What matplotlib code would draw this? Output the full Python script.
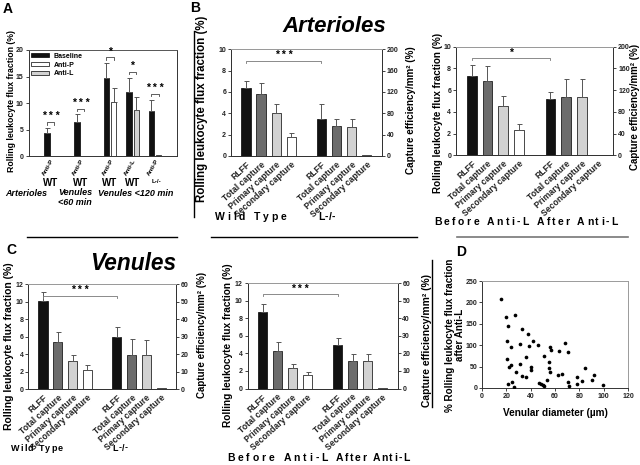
import matplotlib
matplotlib.use("Agg")
import matplotlib.pyplot as plt
from matplotlib.lines import Line2D
from matplotlib.patches import Patch
from matplotlib.transforms import ScaledTranslation

FONT = ['Liberation Sans', 'DejaVu Sans']
plt.rcParams['font.family'] = FONT
plt.rcParams['font.weight'] = 'bold'
plt.rcParams['axes.linewidth'] = 0.7

# ---------------- Data ----------------
# Panel A
a_treatment = ["Anti-P", "Anti-P", "Anti-P", "Anti-L", "Anti-P"]
a_strain = ["WT", "WT", "WT", "WT", "L-/-"]
a_baseline = [4.5, 6.5, 14.7, 12.1, 8.5]
a_baseline_err = [0.9, 1.4, 2.8, 2.7, 2.2]
a_treated = [0.15, 0.1, 10.2, 8.7, 0.2]
a_treated_err = [0.0, 0.0, 2.75, 2.5, 0.0]
a_sig = ["* * *", "* * *", "*", "*", "* * *"]
a_vessel = ["Arterioles", "Venules\n<60 min", "Venules <120 min"]
a_legend = ["Baseline", "Anti-P", "Anti-L"]
a_yticks = [0, 5, 10, 15, 20]

# Panels B and C
bar_labels = ["RLFF", "Total capture", "Primary capture", "Secondary capture"]

# B left: Arterioles, Wild Type vs L-/-
b1_groups = ["Wild Type", "L-/-"]
b1_rlff = [6.35, 3.5]
b1_rlff_err = [0.65, 1.4]
b1_total = [116, 56]
b1_total_err = [21.5, 14]
b1_primary = [81, 55]
b1_primary_err = [16, 14]
b1_secondary = [35.5, 1]
b1_secondary_err = [7, 0]
b1_sig = "* * *"

# B right: Arterioles, before vs after Anti-L
b2_groups = ["Before Anti-L", "After Anti-L"]
b2_rlff = [7.3, 5.15]
b2_rlff_err = [1.0, 0.7]
b2_total = [136, 107]
b2_total_err = [28, 33]
b2_primary = [90, 107]
b2_primary_err = [20, 33]
b2_secondary = [46.5, 1]
b2_secondary_err = [10.5, 0]
b2_sig = "*"

# C left: Venules, Wild Type vs L-/-
c1_groups = ["Wild Type", "L-/-"]
c1_rlff = [10.06, 5.92]
c1_rlff_err = [1.1, 1.2]
c1_total = [27.1, 19.5]
c1_total_err = [5.4, 9.0]
c1_primary = [16.0, 19.3]
c1_primary_err = [3.3, 8.6]
c1_secondary = [11.0, 0.3]
c1_secondary_err = [2.5, 0]
c1_sig = "* * *"

# C right: Venules, before vs after Anti-L
c2_groups = ["Before Anti-L", "After Anti-L"]
c2_rlff = [8.72, 4.98]
c2_rlff_err = [0.92, 0.77]
c2_total = [21.6, 15.7]
c2_total_err = [4.8, 4.0]
c2_primary = [11.5, 15.7]
c2_primary_err = [2.7, 4.0]
c2_secondary = [7.6, 0.2]
c2_secondary_err = [1.6, 0]
c2_sig = "* * *"

# Panel D scatter
d_diameter = [15.5, 19.6, 27.3, 21.5, 32.7, 20.5, 23.5, 31.4, 38.2, 42.0, 39.0, 45.8,
              20.7, 22.0, 23.5, 36.5, 31.6, 40.0, 40.0, 28.0, 33.0, 36.5, 21.5, 24.5,
              26.4, 47.0, 48.5, 50.0, 51.0, 51.2, 53.7, 54.8, 54.8, 56.0, 57.0, 56.0,
              63.0, 62.4, 65.7, 68.2, 70.4, 70.4, 71.2, 77.7, 77.7, 82.6, 84.8, 90.0,
              92.2, 99.3]
d_rlff = [208, 166, 171, 145, 139, 109, 96, 103, 127, 109, 97, 100,
          67, 50, 53, 72, 57, 49, 42, 37, 29, 26, 10, 14,
          2, 11, 9, 7, 5, 75, 18, 61, 47, 95, 89, 37,
          87, 30, 33, 106, 85, 14, 5, 25, 9, 16, 47, 19,
          30, 7]

# ---------------- Layout helpers ----------------
W, H = 640, 465
fig = plt.figure(figsize=(W / 100, H / 100), dpi=100)
renderer = fig.canvas.get_renderer()

BLACK = "#111111"
DARK = "#6c6c6c"
LIGHT = "#d2d2d2"
ERR = dict(ecolor="#555555", elinewidth=0.7, capsize=1.8, capthick=0.7)
TICKSIZE = 5.0


def add_ax(l, t, r, b):
    return fig.add_axes([l / W, 1 - b / H, (r - l) / W, (b - t) / H])


def ftext(x, y, s, **kw):
    return fig.text(x / W, 1 - y / H, s, **kw)


def tracked(x0, x1, y, s, size):
    """Letter-spaced text spanning x0..x1 pixels."""
    parts = [fig.text(0, 0, c, fontsize=size, va="center", ha="left") for c in s]
    widths = [p.get_window_extent(renderer).width for p in parts]
    for i, c in enumerate(s):
        if c == " ":
            widths[i] = size * 0.4
    gap = (x1 - x0 - sum(widths)) / max(len(s) - 1, 1)
    x = x0
    for p, w in zip(parts, widths):
        p.set_position((x / W, 1 - y / H))
        x += w + gap


def hline(x0, x1, y, color="k", lw=1.0):
    fig.add_artist(Line2D([x0 / W, x1 / W], [1 - y / H, 1 - y / H], color=color, lw=lw))


def vline(x, y0, y1, color="k", lw=1.0):
    fig.add_artist(Line2D([x / W, x / W], [1 - y0 / H, 1 - y1 / H], color=color, lw=lw))


def below(ax, x, dy, s, **kw):
    tr = ax.get_xaxis_transform() + ScaledTranslation(0, -dy / 100, fig.dpi_scale_trans)
    ax.text(x, 0, s, transform=tr, **kw)


def style_frame(ax):
    for side in ["left", "bottom", "right"]:
        ax.spines[side].set_color("#333333")
    ax.spines["top"].set_color("#9a9a9a")
    ax.tick_params(axis="both", length=2, width=0.6, labelsize=TICKSIZE, pad=1.5,
                   colors="#222222")


def bar(ax, x, h, e, color, w):
    kw = dict(color=color, edgecolor="k", linewidth=0.5, zorder=3)
    if e > 0:
        ax.bar(x, h, w, yerr=[[0], [e]], error_kw=ERR, **kw)
    else:
        ax.bar(x, h, w, **kw)


# ---------------- Panel A ----------------
axA = add_ax(28.5, 50, 176.5, 156.5)
a_x = [22, 52, 81.5, 104, 126.5]
bwA = 5.2
axA.set_xlim(0, 148)
axA.set_ylim(0, 20)
axA.set_yticks(a_yticks)
axA.set_xticks([])
style_frame(axA)
axA.spines["top"].set_color("#555555")
tcol = {"Anti-P": "white", "Anti-L": LIGHT}
for i, x in enumerate(a_x):
    bar(axA, x - 3.6, a_baseline[i], a_baseline_err[i], BLACK, bwA)
    bar(axA, x + 3.6, a_treated[i], a_treated_err[i], tcol[a_treatment[i]], bwA)
    top = max(a_baseline[i] + a_baseline_err[i], a_treated[i] + a_treated_err[i]) + 1.1
    axA.plot([x - 3.6, x - 3.6, x + 3.6, x + 3.6], [top - 0.5, top, top, top - 0.5],
             color="#444444", lw=0.6)
    axA.text(x, top + 0.15, a_sig[i], ha="center", va="bottom", fontsize=7.5)
    below(axA, x + 2.5, 3, a_treatment[i], rotation=60, rotation_mode="anchor",
          ha="right", va="center", fontsize=4.5)
    if a_strain[i] == "WT":
        below(axA, x, 26, a_strain[i], ha="center", va="center", fontsize=7)
    else:
        below(axA, x + 1, 25, a_strain[i], ha="center", va="center", fontsize=4.5)

axA.legend(handles=[Patch(facecolor=c, edgecolor="k", lw=0.5, label=l)
                    for c, l in zip([BLACK, "white", LIGHT], a_legend)],
           loc="upper left", frameon=False, fontsize=5, handlelength=2.6,
           handleheight=0.5, labelspacing=0.25, borderaxespad=0.3, handletextpad=0.6,
           borderpad=0.1)

ftext(26.5, 193, a_vessel[0], ha="center", va="center", fontsize=6.5, style="italic")
ftext(75, 197.5, a_vessel[1], ha="center", va="center", fontsize=6.5, style="italic",
      linespacing=1.05)
ftext(135.5, 193, a_vessel[2], ha="center", va="center", fontsize=6.5, style="italic")
ftext(12, 101, "Rolling leukocyte flux fraction (%)", rotation=90, ha="center",
      va="center", fontsize=6.3)
ftext(3, 9, "A", fontsize=10, ha="left", va="center")


# ---------------- Panels B and C ----------------
slots = [1, 2, 3, 4, 6, 7, 8, 9]


def bar_panel(box, rlff, rlff_e, tot, tot_e, prim, prim_e, sec, sec_e,
              lmax, lstep, rmax, rstep, sig, groups, gspans, gy, gsize,
              ylab_l, ylab_r, ylab_size):
    ax = add_ax(*box)
    ax2 = ax.twinx()
    ax.set_xlim(0, 10)
    ax.set_ylim(0, lmax)
    ax2.set_ylim(0, rmax)
    ax.set_yticks(range(0, lmax + 1, lstep))
    ax2.set_yticks(range(0, rmax + 1, rstep))
    style_frame(ax)
    style_frame(ax2)
    w = 0.62
    for g in range(2):
        o = 5 * g
        bar(ax, 1 + o, rlff[g], rlff_e[g], BLACK, w)
        bar(ax2, 2 + o, tot[g], tot_e[g], DARK, w)
        bar(ax2, 3 + o, prim[g], prim_e[g], LIGHT, w)
        bar(ax2, 4 + o, sec[g], sec_e[g], "white", w)
    ax.set_xticks(slots)
    ax.set_xticklabels(bar_labels * 2, rotation=42, ha="right",
                       rotation_mode="anchor", fontsize=6.2)
    ax.tick_params(axis="x", length=0, pad=3)
    yb = lmax * 0.893
    ax.plot([1, 1, 6, 6], [yb - lmax * 0.02, yb, yb, yb - lmax * 0.02],
            color="#777777", lw=0.6, zorder=4)
    ax.text(3.5, yb + lmax * 0.005, sig, ha="center", va="bottom", fontsize=7.5)
    for s, (x0, x1) in zip(groups, gspans):
        tracked(x0, x1, gy, s, gsize)
    ftext(ylab_l[0], ylab_l[1], "Rolling leukocyte flux fraction (%)", rotation=90,
          ha="center", va="center", fontsize=ylab_size[0])
    ftext(ylab_r[0], ylab_r[1], "Capture efficiency/mm² (%)", rotation=90,
          ha="center", va="center", fontsize=ylab_size[1])
    return ax


bar_panel((231, 49.3, 381.7, 156), b1_rlff, b1_rlff_err, b1_total, b1_total_err,
          b1_primary, b1_primary_err, b1_secondary, b1_secondary_err,
          10, 2, 200, 40, b1_sig, b1_groups, [(215, 286), (318, 335)], 217, 7.5,
          (202, 109), (411, 110), (8.3, 7.1))
bar_panel((456, 46.7, 613.3, 155.3), b2_rlff, b2_rlff_err, b2_total, b2_total_err,
          b2_primary, b2_primary_err, b2_secondary, b2_secondary_err,
          10, 2, 200, 40, b2_sig, b2_groups, [(434, 529), (537, 618)], 222, 7.5,
          (438, 113), (634.5, 107), (7.1, 7.0))
bar_panel((28.3, 284.3, 176, 389), c1_rlff, c1_rlff_err, c1_total, c1_total_err,
          c1_primary, c1_primary_err, c1_secondary, c1_secondary_err,
          12, 2, 60, 10, c1_sig, c1_groups, [(11, 63), (112, 128)], 448, 6.5,
          (9, 346), (202, 335), (7.5, 7.0))
bar_panel((247.5, 283, 397.5, 388.5), c2_rlff, c2_rlff_err, c2_total, c2_total_err,
          c2_primary, c2_primary_err, c2_secondary, c2_secondary_err,
          12, 2, 60, 10, c2_sig, c2_groups, [(227, 328), (336, 410)], 458, 7.5,
          (228, 345), (427, 340), (7.3, 7.4))

ftext(334.5, 26, "Arterioles", ha="center", va="center", fontsize=16, style="italic")
ftext(133.5, 264, "Venules", ha="center", va="center", fontsize=16.3, style="italic")
ftext(190, 8, "B", fontsize=10, ha="left", va="center")
ftext(6, 250, "C", fontsize=10, ha="left", va="center")

# ---------------- Panel D ----------------
axD = add_ax(482, 281, 628, 388)
axD.scatter(d_diameter, d_rlff, s=7, color="k", zorder=3, linewidths=0)
axD.set_xlim(0, 120)
axD.set_ylim(0, 250)
axD.set_xticks(range(0, 121, 20))
axD.set_yticks(range(0, 251, 50))
style_frame(axD)
axD.spines["right"].set_color("#9a9a9a")
ftext(555, 413, "Venular diameter (µm)", ha="center", va="center", fontsize=7.2)
ftext(455, 335, "% Rolling leukocyte flux fraction\nafter Anti-L", rotation=90,
      ha="center", va="center", fontsize=7.1, linespacing=1.05, multialignment="center")
ftext(456, 252, "D", fontsize=10, ha="left", va="center")

# ---------------- Separator lines ----------------
vline(194, 31, 217)
hline(27, 177, 237)
hline(211, 417, 237)
hline(457, 628, 237, color="#777777", lw=1.2)
vline(432, 260, 407)

fig.savefig("out.png", dpi=100)
